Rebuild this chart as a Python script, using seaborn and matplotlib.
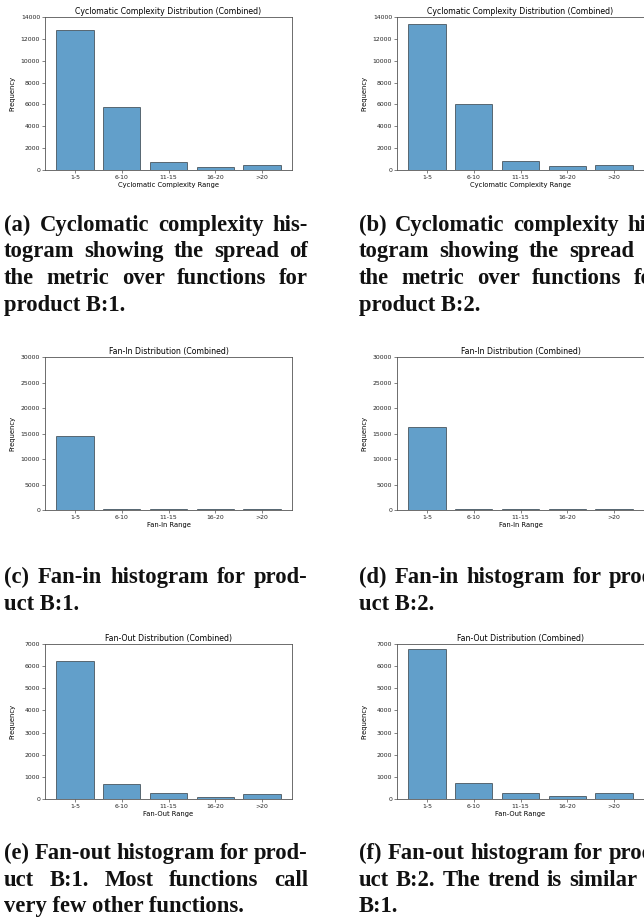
import matplotlib
matplotlib.use("Agg")
import matplotlib.pyplot as plt
import pandas as pd
import seaborn as sns

ranges = ["1-5", "6-10", "11-15", "16-20", ">20"]

cc_b1 = [12780, 5760, 730, 275, 455]
cc_b2 = [13320, 6070, 820, 330, 500]
fanin_b1 = [14580, 230, 100, 100, 180]
fanin_b2 = [16270, 230, 100, 100, 180]
fanout_b1 = [6250, 690, 255, 105, 210]
fanout_b2 = [6760, 725, 270, 135, 255]

titles = ["Cyclomatic Complexity Distribution (Combined)",
          "Fan-In Distribution (Combined)",
          "Fan-Out Distribution (Combined)"]
xlabels = ["Cyclomatic Complexity Range", "Fan-In Range", "Fan-Out Range"]
ylims = [14000, 30000, 7000]

captions = [
    ["(a) Cyclomatic complexity his-", "togram showing the spread of",
     "the metric over functions for", "product B:1."],
    ["(b) Cyclomatic complexity his-", "togram showing the spread of",
     "the metric over functions for", "product B:2."],
    ["(c) Fan-in histogram for prod-", "uct B:1."],
    ["(d) Fan-in histogram for prod-", "uct B:2."],
    ["(e) Fan-out histogram for prod-", "uct B:1. Most functions call",
     "very few other functions."],
    ["(f) Fan-out histogram for prod-", "uct B:2. The trend is similar to",
     "B:1."],
]

W, H = 644, 917
fig = plt.figure(figsize=(W / 100, H / 100), dpi=100)

# pixel layout: axes boxes (top, bottom) per row, left per column
rows = [(17, 170), (357, 510), (644, 799)]
cols = [45, 397]
ax_w = 247
cap_x = [4, 359]
cap_base = [231, 583, 859]
line_h = 26.5
col_w = 304

data = [[cc_b1, cc_b2], [fanin_b1, fanin_b2], [fanout_b1, fanout_b2]]

fig.canvas.draw()
renderer = fig.canvas.get_renderer()


def put_line(x0, y0, line, justify):
    kw = dict(fontsize=16.3, fontweight="bold", family="Liberation Serif",
              color="#111111", va="baseline", ha="left")
    if not justify:
        fig.text(x0 / W, 1 - y0 / H, line, **kw)
        return
    words = line.split(" ")
    texts = [fig.text(0, 1 - y0 / H, w, **kw) for w in words]
    widths = [t.get_window_extent(renderer).width for t in texts]
    gap = (col_w - sum(widths)) / max(len(words) - 1, 1)
    x = x0
    for t, w in zip(texts, widths):
        t.set_x(x / W)
        x += w + gap


for r in range(3):
    top, bottom = rows[r]
    for c in range(2):
        left = cols[c]
        ax = fig.add_axes([left / W, 1 - bottom / H, ax_w / W, (bottom - top) / H])
        df = pd.DataFrame({"range": ranges, "count": data[r][c]})
        sns.barplot(data=df, x="range", y="count", color="#1f77b4", alpha=0.7,
                    edgecolor="black", linewidth=0.5, width=0.8, saturation=1, ax=ax)
        ax.set_xlim(-0.64, 4.64)
        ax.set_ylim(0, ylims[r])
        ax.set_title(titles[r], fontsize=5.6, pad=2.5)
        ax.set_xlabel(xlabels[r], fontsize=4.9, labelpad=1.5)
        ax.set_ylabel("Frequency", fontsize=4.9)
        ax.yaxis.set_label_coords(-0.121, 0.5)
        ax.tick_params(labelsize=4.4, length=2, width=0.4, pad=1.5, colors="#222222")
        for s in ax.spines.values():
            s.set_linewidth(0.6)
            s.set_color("#555555")

        cap = captions[r * 2 + c]
        for i, line in enumerate(cap):
            put_line(cap_x[c], cap_base[r] + i * line_h, line, i < len(cap) - 1)

fig.savefig("out.png", dpi=100)
